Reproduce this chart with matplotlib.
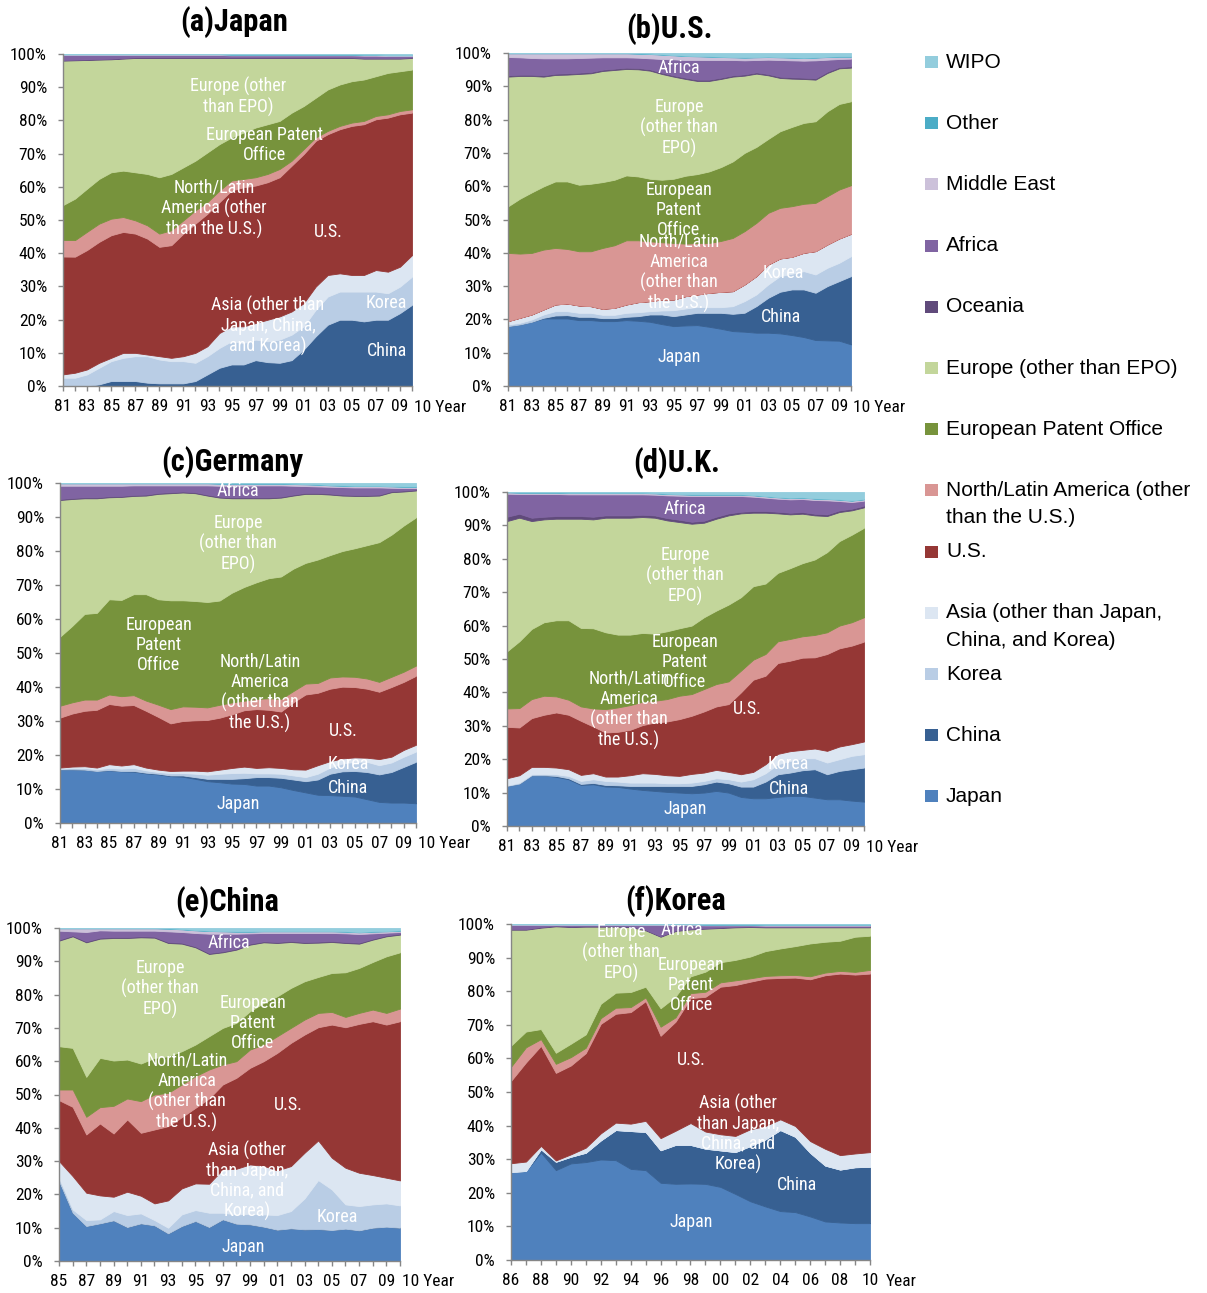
import numpy as np
import matplotlib
matplotlib.use("Agg")
import matplotlib.pyplot as plt
from matplotlib import font_manager
from matplotlib.patches import Rectangle

W, H = 1207, 1293

# ---- series (bottom of the stack first) ----
SERIES = ["Japan", "China", "Korea", "Asia", "U.S.", "NLA", "EPO", "Europe",
          "Oceania", "Africa", "Middle East", "Other", "WIPO"]
COLORS = ["#4F81BD", "#376092", "#B9CDE5", "#DCE6F2", "#953735", "#D99694",
          "#77933C", "#C3D69B", "#604A7B", "#8064A2", "#CCC1DA", "#4BACC6",
          "#93CDDD"]
LEGEND_TEXT = ["Japan", "China", "Korea", "Asia (other than Japan,\nChina, and Korea)",
               "U.S.", "North/Latin America (other\nthan the U.S.)",
               "European Patent Office", "Europe (other than EPO)", "Oceania",
               "Africa", "Middle East", "Other", "WIPO"]

years_81 = list(range(1981, 2011))
years_85 = list(range(1985, 2011))
years_86 = list(range(1986, 2011))

# ---- (a) Japan, share of applications filed abroad (%) ----
jp_china = [0, 0, 0, 0.5, 1.5, 1.5, 1.5, 1, 0.8, 0.8, 0.8, 1.5, 3.5, 5.5, 6.5, 6.5, 7.8, 7.2, 7, 7.8, 11, 15, 18.5, 20, 20, 19.5, 20, 20, 22, 24.5]
jp_korea = [2.5, 2.5, 3.5, 5, 6, 7, 7.5, 8, 7.2, 6.7, 6.7, 5.5, 5.5, 6, 7, 6.5, 6.2, 6.3, 7, 7.7, 7, 8, 8.5, 8.5, 8.5, 9, 8.5, 8, 8, 8.5]
jp_asia = [1, 1.5, 1.5, 1.5, 1, 1.5, 1, 0.5, 1, 1, 1.5, 3, 3, 4.5, 4.5, 5, 5, 6.5, 7, 7, 7, 7, 6.5, 5.5, 5, 5, 6.5, 6.5, 6, 6.5]
jp_us = [35.5, 35, 36, 36.5, 37, 36.5, 36, 35, 33, 34, 37, 39, 40, 39.5, 41, 42, 41.5, 41.5, 42, 44, 45, 44, 42.5, 43.5, 45, 45.5, 45.5, 46.5, 46, 43]
jp_nla = [5, 5, 5.5, 5.5, 5, 4.5, 4, 4, 4, 4.5, 4, 4, 3.5, 3.5, 3, 2.5, 2.5, 2.5, 2.5, 1.5, 1.5, 1, 1, 1, 1, 1, 1, 1, 1, 1]
jp_epo = [10.5, 12.5, 13, 13.5, 14, 14, 14.5, 15.5, 17, 17, 16, 15, 15, 14, 13, 14, 15, 15, 14.5, 14.5, 13, 12, 12.5, 12.5, 12.5, 12.5, 12, 12.5, 12, 12]
jp_europe = [43.5, 41.7, 38.8, 36, 34.1, 33.8, 34.5, 35, 36, 35, 33, 31, 28.5, 26, 24, 22.5, 21, 20, 19, 16.5, 14.5, 12, 9.5, 8, 7, 6.3, 5.3, 4.3, 3.8, 3.5]
jp_oceania = [0.2, 0.2, 0.2, 0.2, 0.2, 0.2, 0.2, 0.2, 0.2, 0.2, 0.2, 0.2, 0.2, 0.2, 0.2, 0.2, 0.2, 0.2, 0.2, 0.2, 0.2, 0.2, 0.2, 0.2, 0.2, 0.2, 0.2, 0.2, 0.2, 0.2]
jp_africa = [1.5, 1.4, 1.3, 1.2, 1.1, 0.9, 0.7, 0.7, 0.7, 0.7, 0.7, 0.7, 0.7, 0.7, 0.6, 0.6, 0.6, 0.6, 0.6, 0.6, 0.6, 0.6, 0.6, 0.6, 0.6, 0.7, 0.7, 0.6, 0.6, 0.4]
jp_mideast = [0.2, 0.2, 0.2, 0.2, 0.2, 0.2, 0.2, 0.2, 0.2, 0.2, 0.2, 0.2, 0.2, 0.2, 0.2, 0.2, 0.2, 0.2, 0.2, 0.2, 0.2, 0.2, 0.2, 0.2, 0.2, 0.2, 0.2, 0.2, 0.2, 0.2]
jp_other = [0.1, 0.1, 0.1, 0.1, 0.1, 0.1, 0.1, 0.1, 0.1, 0.1, 0.1, 0.1, 0.1, 0.1, 0.1, 0.1, 0.1, 0.1, 0.1, 0.1, 0.1, 0.1, 0.1, 0.1, 0.1, 0.1, 0.1, 0.1, 0.1, 0.1]
jp_wipo = [0, 0, 0, 0, 0, 0, 0, 0, 0, 0, 0, 0, 0, 0, 0.1, 0.1, 0.1, 0.1, 0.1, 0.1, 0.1, 0.1, 0.1, 0.1, 0.1, 0.2, 0.2, 0.3, 0.3, 0.3]

# ---- (b) U.S. ----
us_japan = [18, 18.5, 19.3, 20.3, 20.3, 20.3, 19.8, 19.8, 19.5, 19.5, 19.8, 19.6, 19.3, 18.6, 18, 18.2, 18.3, 17.8, 17.2, 16.5, 16.3, 16, 16, 15.8, 15.3, 14.7, 13.8, 13.7, 13.6, 12.5]
us_china = [0, 0, 0, 0.2, 0.9, 1, 1, 1, 0.9, 0.9, 1, 1.4, 2.2, 2.9, 3, 3.3, 3.7, 4.2, 4.8, 5.2, 5.7, 8, 10.5, 12.5, 13.7, 14.3, 14.2, 16.3, 17.9, 20.5]
us_korea = [0.5, 0.5, 0.7, 1, 1.3, 1.2, 1.2, 1.2, 1, 1, 1.2, 1.2, 1, 1.2, 1.8, 1.8, 1.8, 1.7, 1.7, 2.3, 3.5, 3.5, 4, 4.7, 4.7, 5.5, 5.5, 5.5, 5.5, 6]
us_asia = [1, 1.5, 1.5, 1.5, 2, 2.3, 2.2, 2, 1.8, 2.1, 2.5, 3, 3, 3.3, 3.2, 3.7, 3.7, 4.3, 4.6, 4.5, 5, 5.5, 6, 5.3, 5.1, 5.5, 7, 7, 7.3, 6.7]
us_nla = [20.5, 19.3, 18.5, 18, 17, 16.4, 16.3, 16.5, 18.3, 18.8, 19.3, 18.6, 18, 17.2, 17, 15.8, 15.5, 15, 15.3, 16, 16, 16, 15.5, 15.2, 15.2, 14.7, 14.5, 14.5, 14.7, 14.6]
us_epo = [14, 16.5, 18.2, 19, 20, 20.3, 20, 20.3, 19.8, 19.7, 19.5, 19.2, 18.8, 18.8, 19.3, 20.4, 20.7, 21.5, 22.2, 23, 23.5, 22.8, 22.2, 23, 23.8, 24.3, 24.5, 25.5, 25.7, 25.2]
us_europe = [39, 36.9, 35, 33, 32, 32.1, 33.3, 33.2, 33.4, 33, 32, 32.2, 32.5, 31.8, 30.7, 29.1, 28, 27.2, 26.5, 25.5, 23.2, 22, 19.1, 16, 14.5, 13.2, 12.5, 11.5, 10.7, 10.1]
us_oceania = [0.4, 0.4, 0.4, 0.4, 0.4, 0.4, 0.4, 0.4, 0.4, 0.4, 0.4, 0.4, 0.4, 0.4, 0.4, 0.4, 0.4, 0.4, 0.4, 0.4, 0.4, 0.4, 0.4, 0.4, 0.4, 0.4, 0.4, 0.4, 0.4, 0.4]
us_africa = [5.5, 5.2, 5, 5.1, 4.6, 4.5, 4.4, 4.3, 3.7, 3.4, 3.1, 3.1, 3.3, 4.1, 4.8, 5.3, 5.9, 5.9, 5.3, 4.6, 4.2, 3.7, 4.3, 5, 5.1, 5.1, 5.4, 3.6, 2.4, 2.3]
us_mideast = [1.1, 1.2, 1.4, 1.5, 1.5, 1.5, 1.4, 1.3, 1.2, 1.2, 1.2, 1.2, 1.3, 1.3, 1.2, 1.2, 1.1, 1, 0.9, 0.8, 0.8, 0.8, 0.8, 0.8, 0.8, 0.8, 0.8, 0.8, 0.7, 0.6]
us_other = [0.1, 0.1, 0.1, 0.1, 0.1, 0.1, 0.1, 0.1, 0.1, 0.1, 0.1, 0.1, 0.1, 0.1, 0.1, 0.1, 0.1, 0.1, 0.1, 0.1, 0.1, 0.1, 0.1, 0.1, 0.1, 0.1, 0.1, 0.1, 0.1, 0.1]
us_wipo = [0, 0, 0, 0, 0, 0, 0, 0, 0, 0, 0, 0.1, 0.2, 0.4, 0.6, 0.8, 0.9, 1, 1.1, 1.2, 1.3, 1.2, 1.1, 1.2, 1.3, 1.4, 1.3, 1.1, 1, 1]

# ---- (c) Germany ----
de_japan = [15.8, 15.8, 15.7, 15.3, 15.5, 15.2, 15.1, 14.6, 14.3, 13.8, 13.6, 13, 12.3, 12, 11.6, 11.5, 11, 11, 10.5, 9.7, 9, 8.3, 8.2, 8, 7.8, 7, 6.2, 6, 6, 5.8]
de_china = [0, 0, 0, 0, 0.1, 0.1, 0.2, 0.2, 0.2, 0.2, 0.4, 0.5, 0.7, 1, 1.4, 1.7, 2.5, 2.5, 2.8, 3.1, 3.3, 4.5, 6.3, 7.2, 7.5, 8, 8.1, 9, 10.5, 12.2]
de_korea = [0.2, 0.4, 0.5, 0.5, 0.6, 0.7, 0.9, 0.7, 0.5, 0.7, 0.7, 1, 1.2, 1.5, 1.7, 1.6, 1.1, 1.1, 1.2, 1.2, 1.2, 1.7, 1.8, 2.3, 2.7, 3, 2.7, 2.8, 3, 3]
de_asia = [0.3, 0.4, 0.5, 0.5, 1.1, 0.9, 1.1, 0.8, 0.7, 0.6, 0.7, 0.9, 1, 1.2, 1.5, 1.8, 1.6, 1.8, 1.7, 1.8, 2.2, 2.5, 1.9, 1.5, 1.3, 1.2, 1.8, 1.7, 2, 2]
de_us = [14.7, 15.6, 16.3, 17, 17.7, 17.6, 17.4, 16.7, 15.5, 14, 14.6, 14.8, 15.1, 15.3, 15.8, 16.6, 17.3, 16.9, 16.6, 19.7, 22.1, 21.3, 21.3, 21.1, 20.7, 20.3, 19.8, 20.5, 20, 20.3]
de_nla = [3.5, 3.3, 3.3, 3, 2.8, 2.8, 2.9, 3, 3.6, 4.2, 4.3, 4, 3.7, 3.8, 3.5, 2.8, 3, 3.4, 3.7, 3.3, 3.2, 2.9, 3.3, 3, 3, 3, 2.9, 3, 3, 3]
de_epo = [20.3, 22.5, 25.2, 25.5, 28, 28.3, 29.7, 31.3, 31, 32, 31.2, 31.1, 31, 30.7, 32.3, 33.5, 34.3, 35.3, 36, 36, 35.5, 36.3, 36, 36.9, 37.8, 39.2, 41.1, 41.8, 43, 43.6]
de_europe = [40.2, 37.3, 34, 33.7, 30, 30.3, 28.9, 29, 31, 31.5, 31.7, 31.7, 31.3, 30.3, 27.8, 26.1, 24.7, 23.5, 23.2, 21.5, 20.3, 19.3, 17.8, 16.3, 15.4, 14.5, 13.7, 12.5, 10, 7.9]
de_oceania = [0.3, 0.3, 0.3, 0.3, 0.3, 0.3, 0.3, 0.3, 0.3, 0.3, 0.3, 0.3, 0.3, 0.3, 0.3, 0.3, 0.3, 0.3, 0.3, 0.3, 0.3, 0.3, 0.3, 0.3, 0.3, 0.3, 0.3, 0.3, 0.3, 0.3]
de_africa = [3.9, 3.6, 3.4, 3.4, 3.1, 3, 2.8, 2.7, 2.2, 2, 1.8, 2, 2.7, 3.2, 3.4, 3.4, 3.5, 3.5, 3.3, 2.6, 2, 1.9, 2, 2.2, 2.2, 2.2, 2.1, 1, 0.7, 0.4]
de_mideast = [0.7, 0.7, 0.7, 0.7, 0.7, 0.7, 0.6, 0.6, 0.6, 0.6, 0.6, 0.6, 0.6, 0.6, 0.6, 0.6, 0.5, 0.5, 0.5, 0.5, 0.5, 0.5, 0.4, 0.4, 0.4, 0.4, 0.4, 0.4, 0.4, 0.4]
de_other = [0.1, 0.1, 0.1, 0.1, 0.1, 0.1, 0.1, 0.1, 0.1, 0.1, 0.1, 0.1, 0.1, 0.1, 0.1, 0.1, 0.1, 0.1, 0.1, 0.1, 0.1, 0.1, 0.1, 0.1, 0.1, 0.1, 0.1, 0.1, 0.1, 0.1]
de_wipo = [0, 0, 0, 0, 0, 0, 0, 0, 0, 0, 0, 0, 0, 0.1, 0.1, 0.1, 0.1, 0.1, 0.1, 0.2, 0.3, 0.4, 0.6, 0.7, 0.8, 0.8, 0.8, 0.9, 1, 1]

# ---- (d) U.K. ----
uk_japan = [12, 12.7, 15.2, 15.2, 14.7, 14, 12.3, 12.5, 11.8, 11.7, 11.2, 10.8, 10.5, 10.2, 10, 9.8, 10, 10.5, 10, 8.7, 8.3, 8.3, 8.7, 9, 9, 8.5, 8, 8, 7.6, 7.3]
uk_china = [0, 0, 0, 0, 0.3, 0.3, 0.3, 0.4, 0.5, 0.5, 0.8, 1.2, 1.5, 1.8, 2, 2.2, 2.5, 2.8, 2.8, 3.1, 3.5, 5, 6.8, 7, 7.7, 8.5, 7.5, 8.5, 9.4, 10.2]
uk_korea = [0.2, 0.3, 0.3, 0.4, 0.5, 0.7, 0.9, 1.1, 1.2, 1.1, 1, 1, 1, 0.8, 0.8, 1, 1, 1, 1.2, 1.5, 2.2, 2.5, 3, 3.5, 3.6, 3.3, 3.5, 3.5, 4, 4]
uk_asia = [2.1, 2.2, 2.2, 2.1, 2, 2, 1.8, 1.8, 1.3, 1.5, 2.2, 2.8, 2.6, 2.4, 2.2, 2.6, 2.5, 2.5, 2.2, 2.2, 2.2, 2.7, 3.1, 2.9, 2.5, 2.9, 3.5, 3.8, 3.5, 3.8]
uk_us = [15.4, 14.3, 14.6, 15.6, 16.5, 16.3, 16.2, 14, 13.2, 13.4, 13.6, 14.4, 15.4, 16.1, 17, 17.4, 18.3, 19, 20.3, 24.5, 27.6, 26.5, 27.2, 27.1, 27.6, 27.3, 29, 29.4, 29.5, 29.9]
uk_nla = [5.5, 5.8, 5.7, 5.7, 4.8, 4.5, 4.3, 5.4, 7, 7.3, 7.4, 7, 6.5, 6.7, 7, 6.5, 6.7, 6.7, 6.8, 6.5, 6, 6.5, 6.5, 6.5, 6.4, 6.7, 6.5, 6.8, 7, 7.3]
uk_epo = [17.1, 20, 21, 22, 22.8, 23.8, 23.5, 24, 23, 21.8, 21.1, 20.6, 20.1, 20.3, 20.2, 20.5, 21.5, 22, 23, 22, 22, 21.1, 20.5, 21.2, 21.9, 22.6, 24, 25.3, 26.2, 26.8]
uk_europe = [39, 37, 32.3, 30.8, 30.4, 30.4, 32.7, 32.6, 34.3, 35, 35, 34.7, 34.7, 33.2, 31.8, 30.5, 28.3, 27.5, 26.7, 25.1, 22, 21.2, 17.8, 16.1, 14.8, 13.2, 10.8, 8.7, 7.3, 6.1]
uk_oceania = [1.3, 1.2, 1, 0.8, 0.8, 0.8, 0.8, 0.8, 0.7, 0.7, 0.7, 0.7, 0.7, 0.7, 0.7, 0.6, 0.6, 0.6, 0.6, 0.5, 0.5, 0.5, 0.5, 0.5, 0.5, 0.5, 0.5, 0.5, 0.5, 0.5]
uk_africa = [6.9, 5.9, 7.1, 6.8, 6.6, 6.5, 6.5, 6.7, 6.3, 6.3, 6.3, 6.1, 6.2, 6.8, 7.2, 7.7, 7.4, 6.2, 5.2, 4.7, 4.3, 4, 3.9, 4, 3.9, 4.1, 4.2, 2.8, 2, 1.5]
uk_mideast = [0.4, 0.4, 0.4, 0.4, 0.4, 0.4, 0.4, 0.4, 0.4, 0.4, 0.4, 0.4, 0.4, 0.4, 0.4, 0.4, 0.4, 0.4, 0.4, 0.4, 0.4, 0.4, 0.4, 0.4, 0.4, 0.4, 0.4, 0.4, 0.4, 0.4]
uk_other = [0.1, 0.1, 0.1, 0.1, 0.1, 0.1, 0.1, 0.1, 0.1, 0.1, 0.1, 0.1, 0.1, 0.1, 0.1, 0.1, 0.1, 0.1, 0.1, 0.1, 0.1, 0.1, 0.1, 0.1, 0.1, 0.1, 0.1, 0.1, 0.1, 0.1]
uk_wipo = [0, 0.1, 0.1, 0.1, 0.1, 0.2, 0.2, 0.2, 0.2, 0.2, 0.2, 0.2, 0.3, 0.5, 0.6, 0.7, 0.7, 0.7, 0.7, 0.7, 0.9, 1.2, 1.5, 1.7, 1.6, 1.9, 2, 2.2, 2.5, 2.1]

# ---- (e) China, 1985-2010 ----
cn_japan = [24, 14.5, 10.5, 11.3, 12.2, 10.2, 11.3, 10.7, 8.3, 10.5, 12, 10.2, 12.5, 11.2, 11, 10.3, 9.4, 9.8, 9.5, 9.6, 9.3, 9.7, 9.2, 10, 10.3, 10]
cn_korea = [1, 1, 1.8, 1.2, 2.8, 3.6, 3, 1.6, 1.7, 3.5, 3.3, 4.3, 2, 2.8, 3.2, 3.7, 4.4, 5.2, 9.3, 14.7, 12.2, 7.3, 7.3, 7, 7, 6.7]
cn_asia = [5, 10, 8.2, 7.2, 4.3, 7, 5.3, 5, 8.2, 7.8, 8, 8.7, 13, 13.7, 14.8, 14.6, 13.4, 13.5, 13.7, 11.9, 9.5, 11, 10, 8.8, 7.7, 7.5]
cn_us = [18.3, 20.8, 17.5, 21.6, 19, 21.7, 18.9, 22.2, 22.3, 21.4, 22.7, 25.6, 25.5, 27.3, 29, 31.4, 35.3, 37, 35.5, 34, 40, 42.2, 44.7, 46.2, 46, 47.8]
cn_nla = [3.2, 5.2, 5.3, 4.9, 8.3, 6.3, 9.5, 10.5, 10, 9.8, 9.5, 8.7, 6, 5, 5.5, 5, 5, 4.5, 4.5, 4.3, 3.8, 3.1, 3.3, 3.5, 3.5, 3.8]
cn_epo = [13, 12.5, 12, 14.8, 13.6, 11.7, 11.3, 11, 11, 10, 9.5, 10, 11, 11.5, 11.5, 12.5, 12, 12, 11.5, 10.8, 11.7, 13.4, 13.5, 14.3, 17, 16.9]
cn_europe = [31.7, 33.5, 40.4, 35.8, 36.8, 36.5, 37.9, 36.1, 34, 32.3, 29.2, 24.7, 22.7, 22, 20, 18.2, 16, 13.8, 11.5, 10.3, 9.3, 8.8, 7.3, 6.7, 6, 5.3]
cn_oceania = [0.3, 0.3, 0.3, 0.3, 0.3, 0.3, 0.3, 0.3, 0.3, 0.3, 0.3, 0.3, 0.3, 0.3, 0.3, 0.3, 0.3, 0.3, 0.3, 0.3, 0.3, 0.3, 0.3, 0.3, 0.3, 0.3]
cn_africa = [2.7, 1.2, 2.8, 2.2, 1.9, 1.9, 1.7, 1.8, 3.2, 3.2, 4, 5.8, 5.3, 4.5, 3.1, 2.5, 2.7, 2.4, 2.7, 2.6, 2.4, 2.6, 2.6, 1.6, 0.8, 0.5]
cn_mideast = [0.7, 0.9, 1.1, 0.6, 0.7, 0.7, 0.7, 0.7, 0.8, 0.8, 0.8, 0.8, 0.7, 0.6, 0.5, 0.5, 0.5, 0.5, 0.5, 0.5, 0.5, 0.5, 0.5, 0.5, 0.4, 0.4]
cn_other = [0.1, 0.1, 0.1, 0.1, 0.1, 0.1, 0.1, 0.1, 0.1, 0.1, 0.1, 0.1, 0.1, 0.1, 0.1, 0.1, 0.1, 0.1, 0.1, 0.1, 0.1, 0.1, 0.1, 0.1, 0.1, 0.1]
cn_wipo = [0, 0, 0, 0, 0, 0, 0, 0, 0.1, 0.3, 0.6, 0.8, 0.9, 1, 1, 0.9, 0.9, 0.9, 0.9, 0.9, 0.9, 1, 1.2, 1, 0.9, 0.7]

# ---- (f) Korea, 1986-2010 ----
kr_japan = [26.2, 26.5, 32, 26.8, 28.8, 29.2, 30, 29.8, 27.2, 26.8, 23, 22.7, 22.8, 22.7, 21.8, 19.7, 17.5, 16, 14.6, 14.3, 13, 11.5, 11.2, 11, 11]
kr_china = [0, 0, 1, 2.5, 2, 2.8, 5.7, 9, 11.3, 11.4, 9.7, 11.6, 11.5, 10.5, 10.9, 12.5, 16.5, 20, 24.2, 22.5, 19, 16.7, 15.8, 16.7, 16.8]
kr_asia = [2.6, 2.8, 1, 0.4, 0.7, 1.5, 2.1, 2.2, 2.2, 3.3, 3.6, 4.2, 6.5, 5.1, 4.8, 4.8, 5, 4, 3.2, 3.2, 3.5, 5, 4.3, 4.1, 4.4]
kr_us = [24.5, 29.5, 29.8, 26.1, 26.5, 28.2, 32.7, 32.5, 33.3, 35.7, 30.5, 32.5, 37.2, 40.2, 44, 45, 44, 44, 42.2, 44.3, 48.3, 51.8, 54.2, 53.4, 53.3]
kr_nla = [4.2, 4.5, 2, 2.7, 2.5, 1.6, 1.7, 1.8, 1.5, 1.1, 2.7, 1.3, 1.5, 1.5, 1.3, 1.4, 1, 0.8, 0.8, 0.8, 0.9, 0.8, 0.8, 0.8, 1.1]
kr_epo = [6.3, 4.7, 3, 3.3, 4, 4, 4.3, 4.5, 4.5, 3.2, 5.5, 6.2, 5, 6, 6, 6.1, 6.5, 7.4, 8, 8.6, 9.8, 9.2, 9, 10.5, 10.2]
kr_europe = [34.5, 30.3, 30.2, 37.7, 34.8, 32.1, 23, 19.7, 19.4, 16.8, 21.3, 19.5, 14, 12.8, 10.2, 9.7, 8.8, 7.1, 6.3, 5.6, 4.8, 4.3, 4, 2.8, 2.5]
kr_oceania = [0.2, 0.2, 0.2, 0.2, 0.2, 0.2, 0.2, 0.2, 0.2, 0.2, 0.2, 0.2, 0.2, 0.2, 0.2, 0.2, 0.2, 0.2, 0.2, 0.2, 0.2, 0.2, 0.2, 0.2, 0.2]
kr_africa = [1.2, 1.2, 0.6, 0.2, 0.4, 0.3, 0.3, 0.3, 0.4, 1.4, 3.3, 1.6, 1.1, 0.8, 0.6, 0.4, 0.3, 0.3, 0.3, 0.3, 0.3, 0.3, 0.3, 0.3, 0.3]
kr_mideast = [0.2, 0.2, 0.2, 0.2, 0.2, 0.2, 0.2, 0.2, 0.2, 0.2, 0.2, 0.2, 0.2, 0.2, 0.2, 0.2, 0.2, 0.2, 0.2, 0.2, 0.2, 0.2, 0.2, 0.2, 0.2]
kr_other = [0.1, 0.1, 0.1, 0.1, 0.1, 0.1, 0.1, 0.1, 0.1, 0.1, 0.1, 0.1, 0.1, 0.1, 0.1, 0.1, 0.1, 0.1, 0.1, 0.1, 0.1, 0.1, 0.1, 0.1, 0.1]
kr_wipo = [0, 0, 0, 0, 0, 0, 0, 0, 0, 0, 0, 0, 0, 0.1, 0.1, 0.1, 0.1, 0.2, 0.2, 0.2, 0.2, 0.2, 0.2, 0.2, 0.2]

# ---- fonts: a condensed face if one is there, else Arial-metric ----
installed = {f.name for f in font_manager.fontManager.ttflist}
BODY = None
for cand in ("Liberation Sans Narrow", "Roboto Condensed", "Open Sans Condensed"):
    if cand in installed:
        BODY = cand
        break
if BODY is not None:
    TICK_FS, LABEL_FS, TITLE_FS, LSP = 12.5, 13, 22, 1.13
else:
    BODY = "Liberation Sans"
    TICK_FS, LABEL_FS, TITLE_FS, LSP = 10.5, 10.8, 18, 1.5
LEGEND_FONT = "Liberation Sans"
AXIS_GRAY = "#868686"


def px_rect(l, t, r, b):
    return [l / W, 1 - b / H, (r - l) / W, (b - t) / H]


def ftext(x, y, s, **kw):
    return fig.text(x / W, 1 - y / H, s, **kw)


panels = [
    dict(title="(a)Japan", tpos=(234, 22), rect=(63, 54, 412, 386), years=years_81,
         data={"China": jp_china, "Korea": jp_korea, "Asia": jp_asia, "U.S.": jp_us,
               "NLA": jp_nla, "EPO": jp_epo, "Europe": jp_europe, "Oceania": jp_oceania,
               "Africa": jp_africa, "Middle East": jp_mideast, "Other": jp_other, "WIPO": jp_wipo},
         labels=[("Europe (other\nthan EPO)", 238, 97), ("European Patent\nOffice", 264, 145),
                 ("North/Latin\nAmerica (other\nthan the U.S.)", 214, 209), ("U.S.", 328, 232),
                 ("Asia (other than\nJapan, China,\nand Korea)", 268, 326),
                 ("Korea", 386, 303), ("China", 387, 351)]),
    dict(title="(b)U.S.", tpos=(669, 29), rect=(508, 53, 851, 386), years=years_81,
         data={"Japan": us_japan, "China": us_china, "Korea": us_korea, "Asia": us_asia,
               "NLA": us_nla, "EPO": us_epo, "Europe": us_europe, "Oceania": us_oceania,
               "Africa": us_africa, "Middle East": us_mideast, "Other": us_other, "WIPO": us_wipo},
         labels=[("Africa", 679, 68), ("Europe\n(other than\nEPO)", 679, 128),
                 ("European\nPatent\nOffice", 679, 210),
                 ("North/Latin\nAmerica\n(other than\nthe U.S.)", 679, 273),
                 ("Korea", 783, 273), ("China", 781, 317), ("Japan", 679, 357)]),
    dict(title="(c)Germany", tpos=(232, 462), rect=(60, 483, 416, 823), years=years_81,
         data={"Japan": de_japan, "China": de_china, "Korea": de_korea, "Asia": de_asia,
               "U.S.": de_us, "NLA": de_nla, "EPO": de_epo, "Europe": de_europe,
               "Oceania": de_oceania, "Africa": de_africa, "Middle East": de_mideast,
               "Other": de_other, "WIPO": de_wipo},
         labels=[("Africa", 238, 491), ("Europe\n(other than\nEPO)", 238, 544),
                 ("European\nPatent\nOffice", 159, 645),
                 ("North/Latin\nAmerica\n(other than\nthe U.S.)", 260, 693),
                 ("U.S.", 343, 731), ("Korea", 348, 764), ("China", 348, 788),
                 ("Japan", 238, 804)]),
    dict(title="(d)U.K.", tpos=(677, 463), rect=(507, 492, 864, 826), years=years_81,
         data={"Japan": uk_japan, "China": uk_china, "Korea": uk_korea, "Asia": uk_asia,
               "U.S.": uk_us, "NLA": uk_nla, "EPO": uk_epo, "Europe": uk_europe,
               "Oceania": uk_oceania, "Africa": uk_africa, "Middle East": uk_mideast,
               "Other": uk_other, "WIPO": uk_wipo},
         labels=[("Africa", 685, 509), ("Europe\n(other than\nEPO)", 685, 576),
                 ("European\nPatent\nOffice", 685, 662),
                 ("North/Latin\nAmerica\n(other than\nthe U.S.)", 629, 710),
                 ("U.S.", 747, 709), ("Korea", 788, 764), ("China", 789, 789),
                 ("Japan", 685, 809)]),
    dict(title="(e)China", tpos=(227, 902), rect=(59, 928, 400, 1261), years=years_85,
         data={"Japan": cn_japan, "Korea": cn_korea, "Asia": cn_asia, "U.S.": cn_us,
               "NLA": cn_nla, "EPO": cn_epo, "Europe": cn_europe, "Oceania": cn_oceania,
               "Africa": cn_africa, "Middle East": cn_mideast, "Other": cn_other, "WIPO": cn_wipo},
         labels=[("Africa", 229, 943), ("Europe\n(other than\nEPO)", 160, 989),
                 ("European\nPatent\nOffice", 253, 1023),
                 ("North/Latin\nAmerica\n(other than\nthe U.S.)", 187, 1092),
                 ("U.S.", 288, 1105), ("Asia (other\nthan Japan,\nChina, and\nKorea)", 247, 1181),
                 ("Korea", 337, 1217), ("Japan", 243, 1247)]),
    dict(title="(f)Korea", tpos=(676, 901), rect=(511, 924, 870, 1260), years=years_86,
         data={"Japan": kr_japan, "China": kr_china, "Asia": kr_asia, "U.S.": kr_us,
               "NLA": kr_nla, "EPO": kr_epo, "Europe": kr_europe, "Oceania": kr_oceania,
               "Africa": kr_africa, "Middle East": kr_mideast, "Other": kr_other, "WIPO": kr_wipo},
         labels=[("Africa", 682, 930), ("Europe\n(other than\nEPO)", 621, 953),
                 ("European\nPatent\nOffice", 691, 985), ("U.S.", 691, 1060),
                 ("Asia (other\nthan Japan,\nChina, and\nKorea)", 738, 1134),
                 ("China", 797, 1185), ("Japan", 691, 1222)]),
]

fig = plt.figure(figsize=(W / 100, H / 100), dpi=100)

for p in panels:
    l, t, r, b = p["rect"]
    ax = fig.add_axes(px_rect(l, t, r, b))
    yrs = np.array(p["years"])
    stack = np.array([p["data"].get(name, np.zeros(len(yrs))) for name in SERIES], dtype=float)
    stack = stack / stack.sum(axis=0) * 100.0  # 100% stacked
    ax.stackplot(yrs, stack, colors=COLORS, linewidth=0.6, edgecolor="face")

    ax.set_xlim(yrs[0], yrs[-1])
    ax.set_ylim(0, 100)
    for side in ("top", "right"):
        ax.spines[side].set_visible(False)
    for side in ("left", "bottom"):
        ax.spines[side].set_color(AXIS_GRAY)
        ax.spines[side].set_linewidth(1.0)

    ax.set_yticks(range(0, 101, 10))
    ax.set_yticklabels([f"{v}%" for v in range(0, 101, 10)], fontsize=TICK_FS, family=BODY)
    ax.set_xticks(yrs)
    last_on_tick = (yrs[-1] - yrs[0]) % 2 == 0
    xlabs = []
    for y in yrs:
        if (y - yrs[0]) % 2 == 0 and (y != yrs[-1] or last_on_tick):
            xlabs.append(f"{y % 100:02d}")
        else:
            xlabs.append("")
    ax.set_xticklabels(xlabs, fontsize=TICK_FS, family=BODY)
    ax.tick_params(axis="x", direction="out", length=3.6, width=1.0, color=AXIS_GRAY, pad=6)
    ax.tick_params(axis="y", direction="out", length=3.6, width=1.0, color=AXIS_GRAY, pad=8)

    ty = b + 13.5
    if last_on_tick:
        ftext(r + 16, ty, "Year", fontsize=TICK_FS, family=BODY, ha="left", va="top")
    else:
        ftext(r + 2, ty, "10 Year", fontsize=TICK_FS, family=BODY, ha="left", va="top")

    ftext(p["tpos"][0], p["tpos"][1], p["title"], fontsize=TITLE_FS, family=BODY,
          weight="bold", ha="center", va="center")
    for s, x, y in p["labels"]:
        ftext(x, y, s, fontsize=LABEL_FS, family=BODY, color="white", ha="center",
              va="center", multialignment="center", linespacing=LSP)

# ---- legend (top entry = top of the stack) ----
for i, idx in enumerate(range(len(SERIES) - 1, -1, -1)):
    yc = 62 + 61.2 * i
    fig.add_artist(Rectangle((925 / W, 1 - (yc + 6) / H), 13 / W, 12 / H,
                             transform=fig.transFigure, facecolor=COLORS[idx],
                             edgecolor="none"))
    ftext(946, yc - 9.5, LEGEND_TEXT[idx], fontsize=15, family=LEGEND_FONT,
          ha="left", va="top", linespacing=1.55)

fig.savefig("out.png", dpi=100)
